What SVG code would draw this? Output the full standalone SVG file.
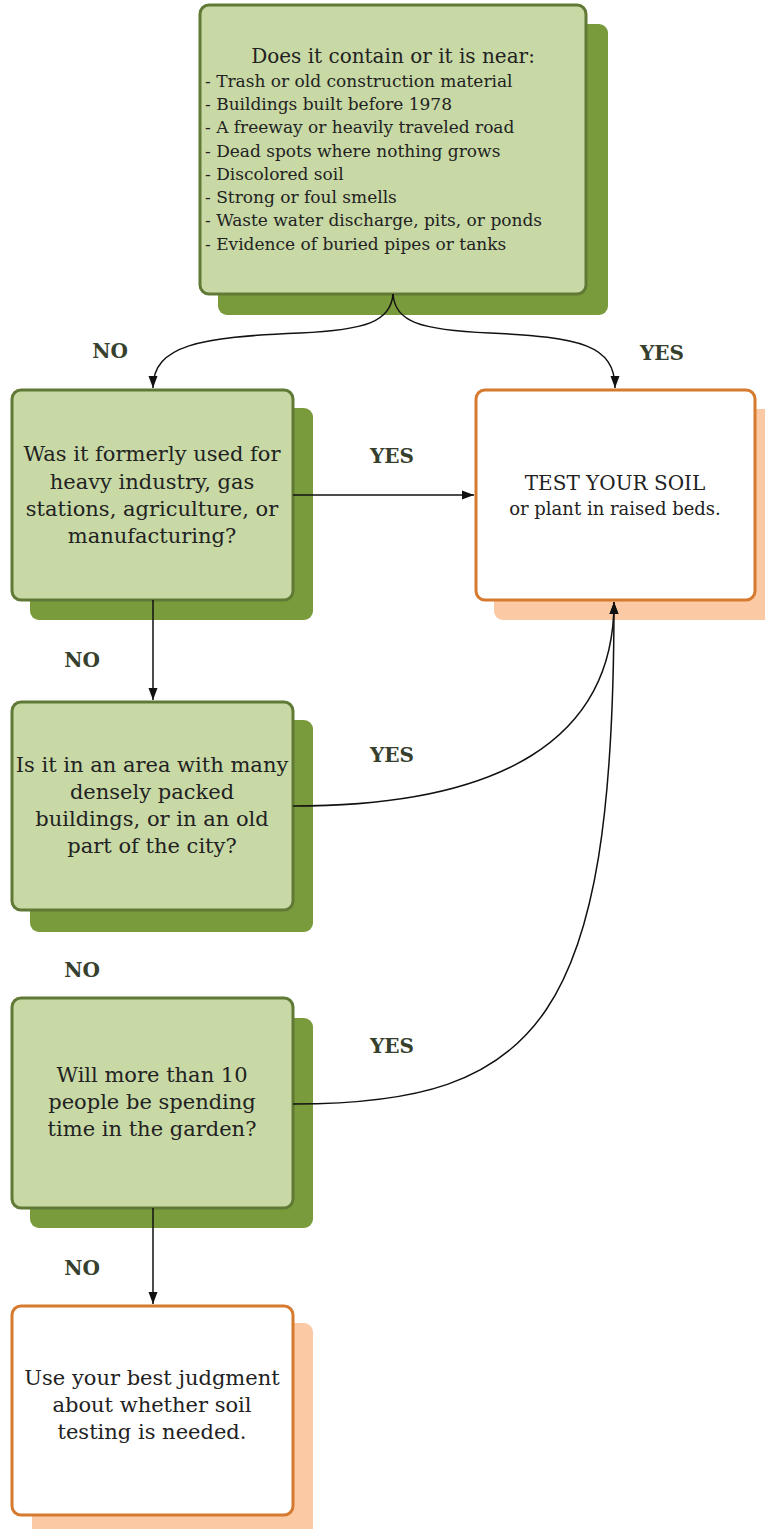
<svg xmlns="http://www.w3.org/2000/svg" width="765" height="1529" viewBox="0 0 765 1529">
<style>
.sg{fill:#7a9b3c}
.bg{fill:#c8d9a6;stroke:#607a36;stroke-width:3}
.so{fill:#fbc9a3}
.bo{fill:#ffffff;stroke:#d57a2e;stroke-width:3}
.t{font-family:"DejaVu Serif","Liberation Serif",serif;fill:#222;text-anchor:middle}
.q{font-size:21px}
.l{font-size:17px;text-anchor:start}
.lab{font-family:"DejaVu Serif","Liberation Serif",serif;font-weight:bold;font-size:20px;fill:#36402c;text-anchor:middle}
.c{fill:none;stroke:#111;stroke-width:1.5}
</style>
<defs>
<marker id="ah" viewBox="0 0 12 10" refX="12" refY="5" markerWidth="12" markerHeight="10" markerUnits="userSpaceOnUse" orient="auto">
<path d="M0,0.5 L12,5 L0,9.5 Z" fill="#111"/>
</marker>
</defs>
<rect width="765" height="1529" fill="#ffffff"/>

<g id="n-start">
<rect class="sg" x="218" y="24" width="390" height="291" rx="9"/>
<rect class="bg" x="200" y="5" width="386" height="289" rx="9"/>
<text class="t" x="393" y="63" font-size="20">Does it contain or it is near:</text>
<text class="t l" x="205" y="87">- Trash or old construction material</text>
<text class="t l" x="205" y="110">- Buildings built before 1978</text>
<text class="t l" x="205" y="133">- A freeway or heavily traveled road</text>
<text class="t l" x="205" y="157">- Dead spots where nothing grows</text>
<text class="t l" x="205" y="180">- Discolored soil</text>
<text class="t l" x="205" y="203">- Strong or foul smells</text>
<text class="t l" x="205" y="226">- Waste water discharge, pits, or ponds</text>
<text class="t l" x="205" y="250">- Evidence of buried pipes or tanks</text>
</g>

<g id="n-industry">
<rect class="sg" x="30" y="408" width="283" height="212" rx="9"/>
<rect class="bg" x="12" y="390" width="281" height="210" rx="9"/>
<text class="t q" x="152" y="461">Was it formerly used for</text>
<text class="t q" x="152" y="489">heavy industry, gas</text>
<text class="t q" x="152" y="516">stations, agriculture, or</text>
<text class="t q" x="152" y="543">manufacturing?</text>
</g>

<g id="n-test">
<rect class="so" x="494" y="409" width="280" height="211" rx="9"/>
<rect class="bo" x="476" y="390" width="279" height="210" rx="9"/>
<text class="t" x="615" y="490" font-size="20">TEST YOUR SOIL</text>
<text class="t" x="615" y="515" font-size="18">or plant in raised beds.</text>
</g>

<g id="n-dense">
<rect class="sg" x="30" y="720" width="283" height="212" rx="9"/>
<rect class="bg" x="12" y="702" width="281" height="208" rx="9"/>
<text class="t q" x="152" y="772">Is it in an area with many</text>
<text class="t q" x="152" y="799">densely packed</text>
<text class="t q" x="152" y="826">buildings, or in an old</text>
<text class="t q" x="152" y="853">part of the city?</text>
</g>

<g id="n-people">
<rect class="sg" x="30" y="1018" width="283" height="210" rx="9"/>
<rect class="bg" x="12" y="998" width="281" height="210" rx="9"/>
<text class="t q" x="152" y="1082">Will more than 10</text>
<text class="t q" x="152" y="1109">people be spending</text>
<text class="t q" x="152" y="1136">time in the garden?</text>
</g>

<g id="n-judgment">
<rect class="so" x="32" y="1323" width="281" height="215" rx="9"/>
<rect class="bo" x="12" y="1306" width="281" height="209" rx="9"/>
<text class="t q" x="152" y="1385">Use your best judgment</text>
<text class="t q" x="152" y="1412">about whether soil</text>
<text class="t q" x="152" y="1439">testing is needed.</text>
</g>

<g id="connectors">
<path class="c" d="M393,294 C391,322 365,330 300,333 C200,337 153,345 153,388" marker-end="url(#ah)"/>
<path class="c" d="M393,294 C395,322 420,330 490,333 C580,337 615,345 615,388" marker-end="url(#ah)"/>
<path class="c" d="M293,495 L474,495" marker-end="url(#ah)"/>
<path class="c" d="M153,600 L153,700" marker-end="url(#ah)"/>
<path class="c" d="M293,806 C500,806 614,740 614,602" marker-end="url(#ah)"/>
<path class="c" d="M293,1104 C540,1104 614,1020 614,602" marker-end="url(#ah)"/>
<path class="c" d="M153,1208 L153,1304" marker-end="url(#ah)"/>
</g>

<g id="labels">
<text class="lab" x="110" y="358">NO</text>
<text class="lab" x="662" y="360">YES</text>
<text class="lab" x="392" y="463">YES</text>
<text class="lab" x="82" y="667">NO</text>
<text class="lab" x="392" y="762">YES</text>
<text class="lab" x="82" y="977">NO</text>
<text class="lab" x="392" y="1053">YES</text>
<text class="lab" x="82" y="1275">NO</text>
</g>
</svg>
